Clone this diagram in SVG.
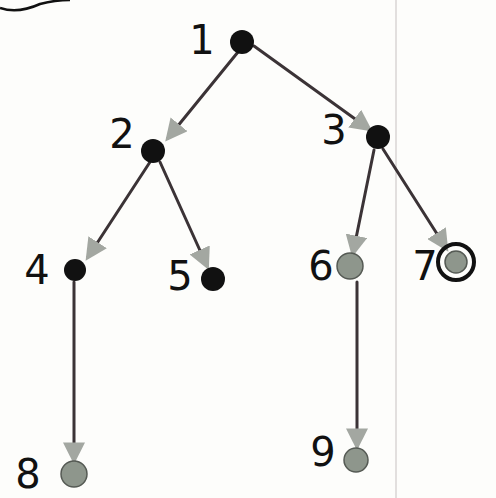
<svg xmlns="http://www.w3.org/2000/svg" width="496" height="498" viewBox="0 0 496 498">
<style>
.edge{stroke:#3b3336;stroke-width:3;fill:none;stroke-linecap:round}
.lbl{font-family:"DejaVu Sans","Liberation Sans",sans-serif;font-size:40px;fill:#111;text-anchor:middle}
.blk{fill:#111}
.gry{fill:#8e968c;stroke:#555a54;stroke-width:1.5}
</style>
<defs>
<marker id="arr" viewBox="0 0 10 10" refX="8" refY="5" markerWidth="22" markerHeight="22" markerUnits="userSpaceOnUse" orient="auto">
<path d="M0,0 L10,5 L0,10 z" fill="#a3a7a1"/>
</marker>
</defs>
<rect width="496" height="498" fill="#fdfdfb"/>
<line x1="396" y1="0" x2="396" y2="498" stroke="#d8d4d4" stroke-width="1.5"/>
<path d="M0,8 Q18,14 40,4 Q55,0 70,0" stroke="#111" stroke-width="2.5" fill="none"/>
<g id="connectors">
<line class="edge" x1="238" y1="52" x2="168" y2="138" marker-end="url(#arr)"/>
<line class="edge" x1="254" y1="46" x2="369" y2="129" marker-end="url(#arr)"/>
<line class="edge" x1="150" y1="162" x2="88" y2="257" marker-end="url(#arr)"/>
<line class="edge" x1="160" y1="162" x2="207" y2="266" marker-end="url(#arr)"/>
<line class="edge" x1="374" y1="150" x2="353" y2="253" marker-end="url(#arr)"/>
<line class="edge" x1="383" y1="149" x2="446" y2="248" marker-end="url(#arr)"/>
<line class="edge" x1="74" y1="282" x2="74" y2="460" marker-end="url(#arr)"/>
<line class="edge" x1="357" y1="282" x2="357" y2="446" marker-end="url(#arr)"/>
</g>
<g id="n1"><circle class="blk" cx="242" cy="42" r="12"/><text class="lbl" x="202" y="54">1</text></g>
<g id="n2"><circle class="blk" cx="153" cy="151" r="12"/><text class="lbl" x="122" y="148">2</text></g>
<g id="n3"><circle class="blk" cx="378" cy="137" r="12"/><text class="lbl" x="334" y="144">3</text></g>
<g id="n4"><circle class="blk" cx="75" cy="270" r="11"/><text class="lbl" x="37" y="284">4</text></g>
<g id="n5"><circle class="blk" cx="213" cy="279" r="12"/><text class="lbl" x="180" y="290">5</text></g>
<g id="n6"><circle class="gry" cx="350" cy="266" r="13"/><text class="lbl" x="321" y="280">6</text></g>
<g id="n7"><circle class="gry" cx="456" cy="262" r="11"/><circle cx="456" cy="262" r="18" fill="none" stroke="#111" stroke-width="4"/><text class="lbl" x="425" y="280">7</text></g>
<g id="n8"><circle class="gry" cx="74" cy="474" r="13"/><text class="lbl" x="28" y="488">8</text></g>
<g id="n9"><circle class="gry" cx="356" cy="460" r="12"/><text class="lbl" x="323" y="466">9</text></g>
</svg>
